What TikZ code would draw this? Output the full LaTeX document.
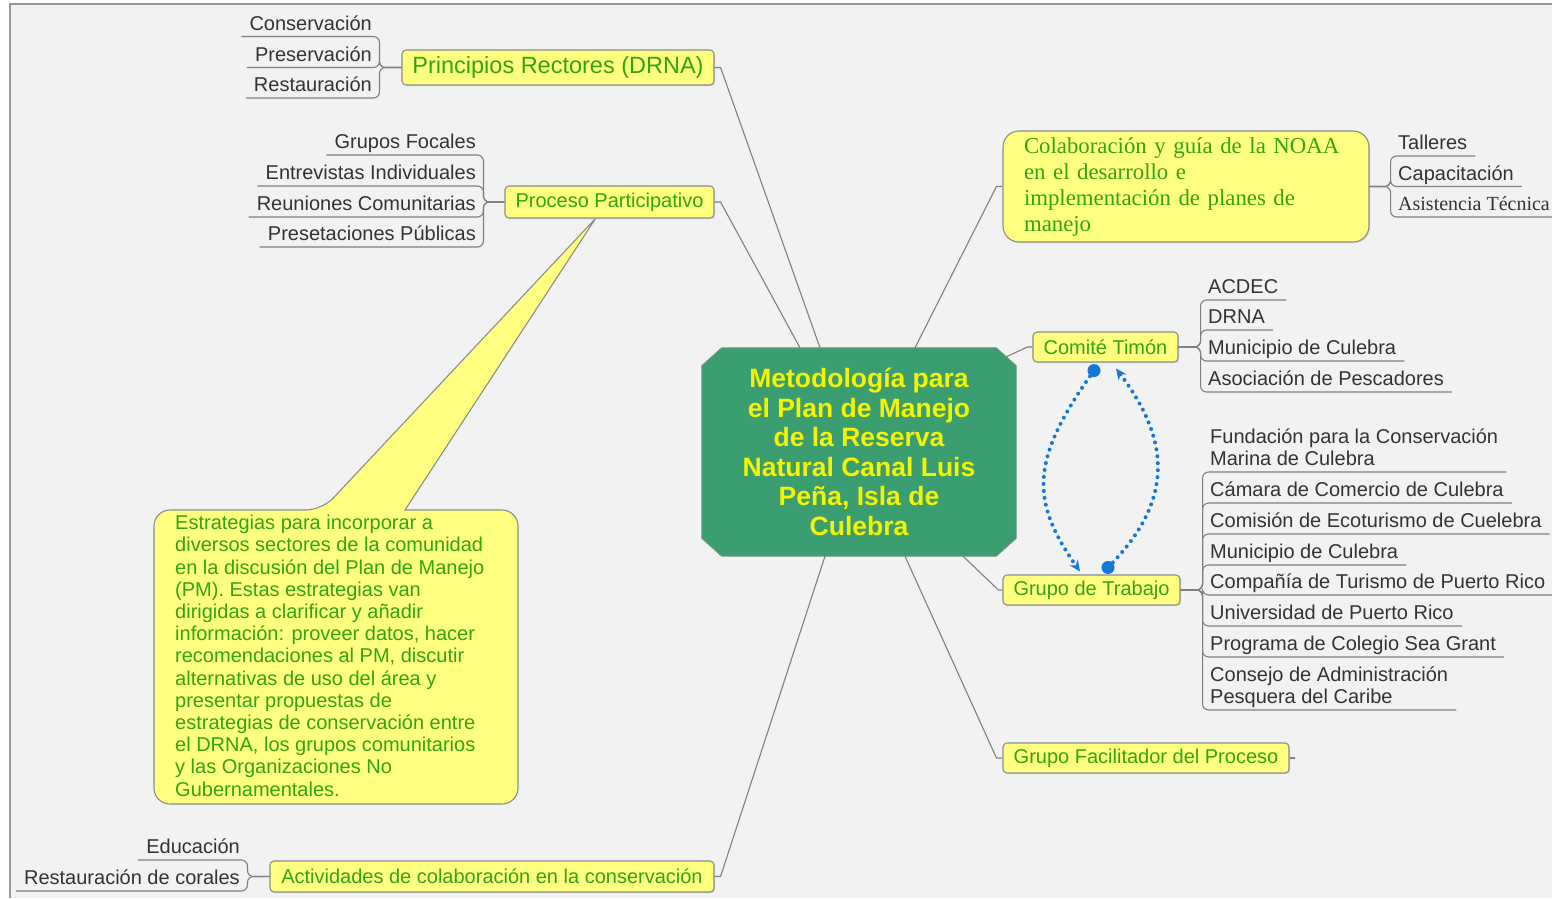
\documentclass[tikz,border=0pt]{standalone}
\usepackage{fontspec}
\setmainfont{Liberation Sans}
\newfontfamily\serifnoaa{Liberation Serif}
\usetikzlibrary{arrows.meta,calc,shadows}
\definecolor{bgc}{RGB}{242,242,242}
\definecolor{boxfill}{RGB}{255,255,128}
\definecolor{boxtext}{RGB}{50,165,20}
\definecolor{boxline}{RGB}{140,140,140}
\definecolor{centerfill}{RGB}{58,158,112}
\definecolor{centertext}{RGB}{245,245,0}
\definecolor{leaftext}{RGB}{51,51,51}
\definecolor{linkblue}{RGB}{20,120,215}
\definecolor{connc}{RGB}{128,128,128}
\pgfdeclarelayer{bgl}
\pgfsetlayers{bgl,main}
\tikzset{
  topic/.style={draw=boxline, line width=1.1pt, fill=boxfill, rounded corners=4pt,
    text=boxtext, font=\fontsize{20}{24}\selectfont, inner sep=0pt,
    drop shadow={shadow xshift=1.2pt, shadow yshift=-1.2pt, opacity=.22}},
  centre/.style={rectangle, minimum width=314pt, minimum height=208pt,
    text=centertext, font=\bfseries\fontsize{26.5}{29.5}\selectfont,
    align=center, inner sep=0pt},
  centreshape/.style={fill=centerfill, draw=boxline!60!centerfill, line width=1pt},
  leafL/.style={anchor=south east, inner xsep=8pt, inner ysep=0pt, text=leaftext,
    font=\fontsize{20}{20}\selectfont, align=right},
  leafR/.style={anchor=south west, inner xsep=8pt, inner ysep=0pt, text=leaftext,
    font=\fontsize{20}{20}\selectfont, align=left},
  br/.style={draw=connc, line width=1.1pt, rounded corners=6pt},
  conn/.style={draw=connc, line width=1.1pt},
  frameline/.style={draw=gray!80, line width=1.2pt},
  callout/.style={draw=boxline, line width=1.1pt, fill=boxfill},
  notetext/.style={anchor=north west, inner sep=0pt, align=left, text=boxtext,
    font=\fontsize{20}{22.2}\selectfont},
  rel/.style={draw=linkblue, line width=4pt, line cap=round, dash pattern=on 0pt off 7pt,
    -{Stealth[length=11pt,width=10pt]}}
}
\begin{document}
\begin{tikzpicture}[x=1pt,y=-1pt]
\useasboundingbox (0,0) rectangle (1552,898);

% central topic
\node[centre] (C) at (859,452) {Metodología para\\el Plan de Manejo\\de la Reserva\\Natural Canal Luis\\Peña, Isla de\\Culebra};

% main topics
\node[topic, font=\fontsize{23.5}{28}\selectfont, minimum width=312pt, minimum height=35pt] (PR) at (558,67.5) {Principios Rectores (DRNA)};
\node[topic, minimum width=209pt, minimum height=32pt] (PP) at (609.5,202) {Proceso Participativo};
\node[topic, minimum width=444pt, minimum height=31pt] (AC) at (492,876.5) {Actividades de colaboración en la conservación};
\node[topic, rounded corners=16pt, minimum width=366pt, minimum height=111pt,
      font=\serifnoaa\fontsize{22.8}{26}\selectfont, align=left, text width=324pt] (NO) at (1186,186.5)
      {Colaboración y guía de la NOAA\\en el desarrollo e\\implementación de planes de\\manejo};
\node[topic, minimum width=145pt, minimum height=30pt] (CT) at (1105.5,347) {Comité Timón};
\node[topic, minimum width=177pt, minimum height=30pt] (GT) at (1091.5,590) {Grupo de Trabajo};
\node[topic, minimum width=286pt, minimum height=30pt] (GF) at (1146,758) {Grupo Facilitador del Proceso};

% background, frame, callout and central shape
\begin{pgfonlayer}{bgl}
\fill[white] (0,0) rectangle (1552,898);
\fill[bgc] (10,4) rectangle (1552,898);
\draw[frameline] (10,898) -- (10,4) -- (1552,4);
\draw[callout] (405,510) [rounded corners=16pt] -- (518,510) -- (518,804) -- (154,804) -- (154,510) -- (322,510) [sharp corners] -- ($(PP.south)+(-14,0)$) -- cycle;
\draw[centreshape] ($(C.north west)+(20,0)$) -- ($(C.north east)+(-20,0)$) -- ($(C.north east)+(0,18)$)
  -- ($(C.south east)+(0,-18)$) -- ($(C.south east)+(-20,0)$) -- ($(C.south west)+(20,0)$)
  -- ($(C.south west)+(0,-18)$) -- ($(C.north west)+(0,18)$) -- cycle;
\end{pgfonlayer}

\node[notetext] (NT) at (175,515) {Estrategias para incorporar a\\diversos sectores de la comunidad\\en la discusión del Plan de Manejo\\(PM). Estas estrategias van\\dirigidas a clarificar y añadir\\información: proveer datos, hacer\\recomendaciones al PM, discutir\\alternativas de uso del área y\\presentar propuestas de\\estrategias de conservación entre\\el DRNA, los grupos comunitarios\\y las Organizaciones No\\Gubernamentales.};

% leaves: Principios Rectores
\node[leafL] (PR1) at (380,36.5) {\strut Conservación};
\node[leafL] (PR2) at (380,67.5) {\strut Preservación};
\node[leafL] (PR3) at (380,98) {\strut Restauración};
\foreach \l in {PR1,PR2,PR3} \draw[br] (PR.west) -- ++(-22,0) |- (\l.south west);

% leaves: Proceso Participativo
\node[leafL] (PP1) at (484,155) {\strut Grupos Focales};
\node[leafL] (PP2) at (484,186) {\strut Entrevistas Individuales};
\node[leafL] (PP3) at (484,217) {\strut Reuniones Comunitarias};
\node[leafL] (PP4) at (484,247) {\strut Presetaciones Públicas};
\foreach \l in {PP1,PP2,PP3,PP4} \draw[br] (PP.west) -- ++(-21,0) |- (\l.south west);

% leaves: Actividades
\node[leafL] (AC1) at (248,860) {\strut Educación};
\node[leafL] (AC2) at (248,891) {\strut Restauración de corales};
\foreach \l in {AC1,AC2} \draw[br] (AC.west) -- ++(-22,0) |- (\l.south west);

% leaves: NOAA
\node[leafR] (NO1) at (1390,156) {\strut Talleres};
\node[leafR] (NO2) at (1390,186.5) {\strut Capacitación};
\node[leafR, font=\serifnoaa\fontsize{20}{20}\selectfont] (NO3) at (1390,217) {\strut Asistencia Técnica};
\foreach \l in {NO1,NO2,NO3} \draw[br] (NO.east) -- ++(21,0) |- (\l.south east);

% leaves: Comité Timón
\node[leafR] (CT1) at (1200,300) {\strut ACDEC};
\node[leafR] (CT2) at (1200,330) {\strut DRNA};
\node[leafR] (CT3) at (1200,361) {\strut Municipio de Culebra};
\node[leafR] (CT4) at (1200,392) {\strut Asociación de Pescadores};
\foreach \l in {CT1,CT2,CT3,CT4} \draw[br] (CT.east) -- ++(22,0) |- (\l.south east);

% leaves: Grupo de Trabajo
\node[leafR, font=\fontsize{20}{22}\selectfont] (GT1) at (1202,472) {\strut Fundación para la Conservación\\\strut Marina de Culebra};
\node[leafR] (GT2) at (1202,503) {\strut Cámara de Comercio de Culebra};
\node[leafR] (GT3) at (1202,534) {\strut Comisión de Ecoturismo de Cuelebra};
\node[leafR] (GT4) at (1202,565) {\strut Municipio de Culebra};
\node[leafR] (GT5) at (1202,595) {\strut Compañía de Turismo de Puerto Rico};
\node[leafR] (GT6) at (1202,626) {\strut Universidad de Puerto Rico};
\node[leafR] (GT7) at (1202,657) {\strut Programa de Colegio Sea Grant};
\node[leafR, font=\fontsize{20}{22}\selectfont] (GT8) at (1202,710) {\strut Consejo de Administración\\\strut Pesquera del Caribe};
\foreach \l in {GT1,GT2,GT3,GT4,GT5,GT6,GT7,GT8} \draw[br] (GT.east) -- ++(22,0) |- (\l.south east);

% connectors to central topic
\draw[conn] (PR.east) -- ++(6,0) -- ([xshift=-39pt]C.north);
\draw[conn] (PP.east) -- ++(6,0) -- ([xshift=-59pt]C.north);
\draw[conn] (AC.east) -- ++(6,0) -- ([xshift=-34pt]C.south);
\draw[conn] (NO.west) -- ++(-6,0) -- ([xshift=56pt]C.north);
\draw[conn] (CT.west) -- ++(-5,0) -- ($(C.north east)+(-10,9)$);
\draw[conn] (GT.west) -- ++(-4,0) -- ([xshift=104pt]C.south);
\draw[conn] (GF.west) -- ++(-6,0) -- ([xshift=46pt]C.south);
\draw[conn] (GF.east) -- ++(5,0);

% relationships between Comité Timón and Grupo de Trabajo
\coordinate (d1) at ($(CT.south)+(-11.5,8)$);
\coordinate (a1) at ($(GT.north)+(-11.5,-3)$);
\coordinate (d2) at ($(GT.north)+(16.5,-7)$);
\coordinate (a2) at ($(CT.south)+(10.5,6)$);
\draw[rel] (d1) .. controls (1030,460) and (1030,500) .. (a1);
\draw[rel] (d2) .. controls (1175,500) and (1170,440) .. (a2);
\fill[linkblue] (d1) circle (6.5);
\fill[linkblue] (d2) circle (6.5);
\end{tikzpicture}
\end{document}
